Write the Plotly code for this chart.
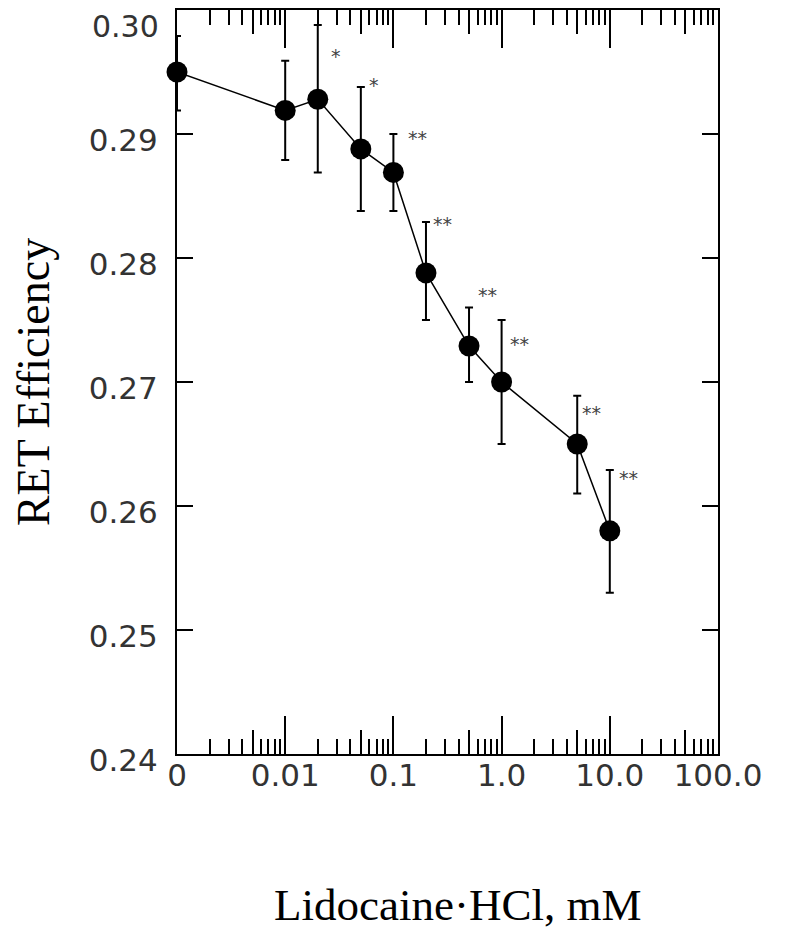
import math
import plotly.graph_objects as go

# ---- data ----
conc = [0.001, 0.01, 0.02, 0.05, 0.1, 0.2, 0.5, 1.0, 5.0, 10.0]   # 0 plotted at 0.001
ret_eff = [0.2950, 0.2919, 0.2928, 0.2888, 0.2869, 0.2788, 0.2729, 0.2700, 0.2650, 0.2580]
err_plus = [0.0029, 0.0040, 0.0060, 0.0050, 0.0031, 0.0041, 0.0031, 0.0050, 0.0039, 0.0049]
err_minus = [0.0031, 0.0040, 0.0059, 0.0050, 0.0031, 0.0038, 0.0029, 0.0050, 0.0040, 0.0050]
sig_marks = ["", "", "*", "*", "**", "**", "**", "**", "**", "**"]
sig_y = [None, None, 0.29648, 0.29414, 0.28986, 0.28293, 0.27715, 0.27319, 0.26769, 0.26244]
sig_shift = [0, 0, 11, 6, 13, 5, 7, 6, 3, 7]

x_tickvals = [0.001, 0.01, 0.1, 1, 10, 100]
x_ticktext = ["0", "0.01", "0.1", "1.0", "10.0", "100.0"]
y_tickvals = [0.24, 0.25, 0.26, 0.27, 0.28, 0.29, 0.30]
y_ticktext = ["0.24", "0.25", "0.26", "0.27", "0.28", "0.29", ""]
y_top_label = "0.30"
x_title = "Lidocaine·HCl, mM"
y_title = "RET Efficiency"

decades = [-3, -2, -1, 0, 1]
minor_vals = [m * 10 ** e for e in decades for m in (2, 3, 4, 6, 7, 8, 9)]
mid_vals = [5 * 10 ** e for e in decades]

# page body has an 8px margin, so the figure is slightly smaller than the window
W, H = 785, 935
fig = go.Figure()
fig.add_trace(go.Scatter(
    x=conc, y=ret_eff, mode="lines+markers",
    line=dict(color="black", width=1.5),
    marker=dict(size=21, color="black"),
    error_y=dict(type="data", symmetric=False, array=err_plus, arrayminus=err_minus,
                 color="black", thickness=2, width=4),
    cliponaxis=False, showlegend=False,
))

for xv, mark, yv, sh in zip(conc, sig_marks, sig_y, sig_shift):
    if not mark:
        continue
    fig.add_annotation(x=math.log10(xv), y=yv, text=mark, showarrow=False,
                       xanchor="left", yanchor="middle", xshift=sh, yshift=-2,
                       font=dict(family="DejaVu Sans", size=19, color="#444"))

tickfont = dict(family="DejaVu Sans", size=31, color="#333")
# top tick label shifted down as in the reference
fig.add_annotation(x=0, xref="paper", y=y_tickvals[-1], yref="y", text=y_top_label,
                   showarrow=False, xanchor="right", yanchor="middle", borderpad=0,
                   xshift=-17, yshift=-16,
                   font=dict(family="DejaVu Sans", size=30, color="#333"))

# x-axis title (slightly right of centre, as in the reference)
fig.add_annotation(x=0.518, xref="paper", y=0, yref="paper", text=x_title,
                   showarrow=False, xanchor="center", yanchor="middle", yshift=-151,
                   font=dict(family="Liberation Serif", size=45, color="black"))

axis_common = dict(showline=True, linecolor="black", linewidth=2, mirror="ticks",
                   ticks="inside", tickcolor="black", tickwidth=2, showgrid=False,
                   zeroline=False, automargin=False)

fig.update_layout(
    width=W, height=H,
    margin=dict(l=169, r=75, t=2, b=189),
    plot_bgcolor="white", paper_bgcolor="white",
    xaxis=dict(type="log", range=[-3, 2], tickmode="array", tickvals=x_tickvals,
               ticktext=x_ticktext, ticklen=38, tickfont=tickfont,
               ticklabelstandoff=-7,
               minor=dict(tickvals=minor_vals, ticks="inside", ticklen=15,
                          tickcolor="black", tickwidth=2, showgrid=False),
               **axis_common),
    xaxis2=dict(type="log", range=[-3, 2], overlaying="x", tickmode="array",
                tickvals=mid_vals, ticklen=24, showticklabels=False, **axis_common),
    yaxis=dict(range=[0.24, 0.30], tickmode="array", tickvals=y_tickvals,
               ticktext=y_ticktext, ticklen=16, tickfont=tickfont,
               ticklabelshift=6, ticklabelstandoff=11,
               title=dict(text=y_title, standoff=42,
                          font=dict(family="Liberation Serif", size=46, color="black")),
               **axis_common),
)
fig.add_trace(go.Scatter(x=[0.001], y=[None], xaxis="x2", showlegend=False, hoverinfo="skip"))

fig.write_html("out.html")
